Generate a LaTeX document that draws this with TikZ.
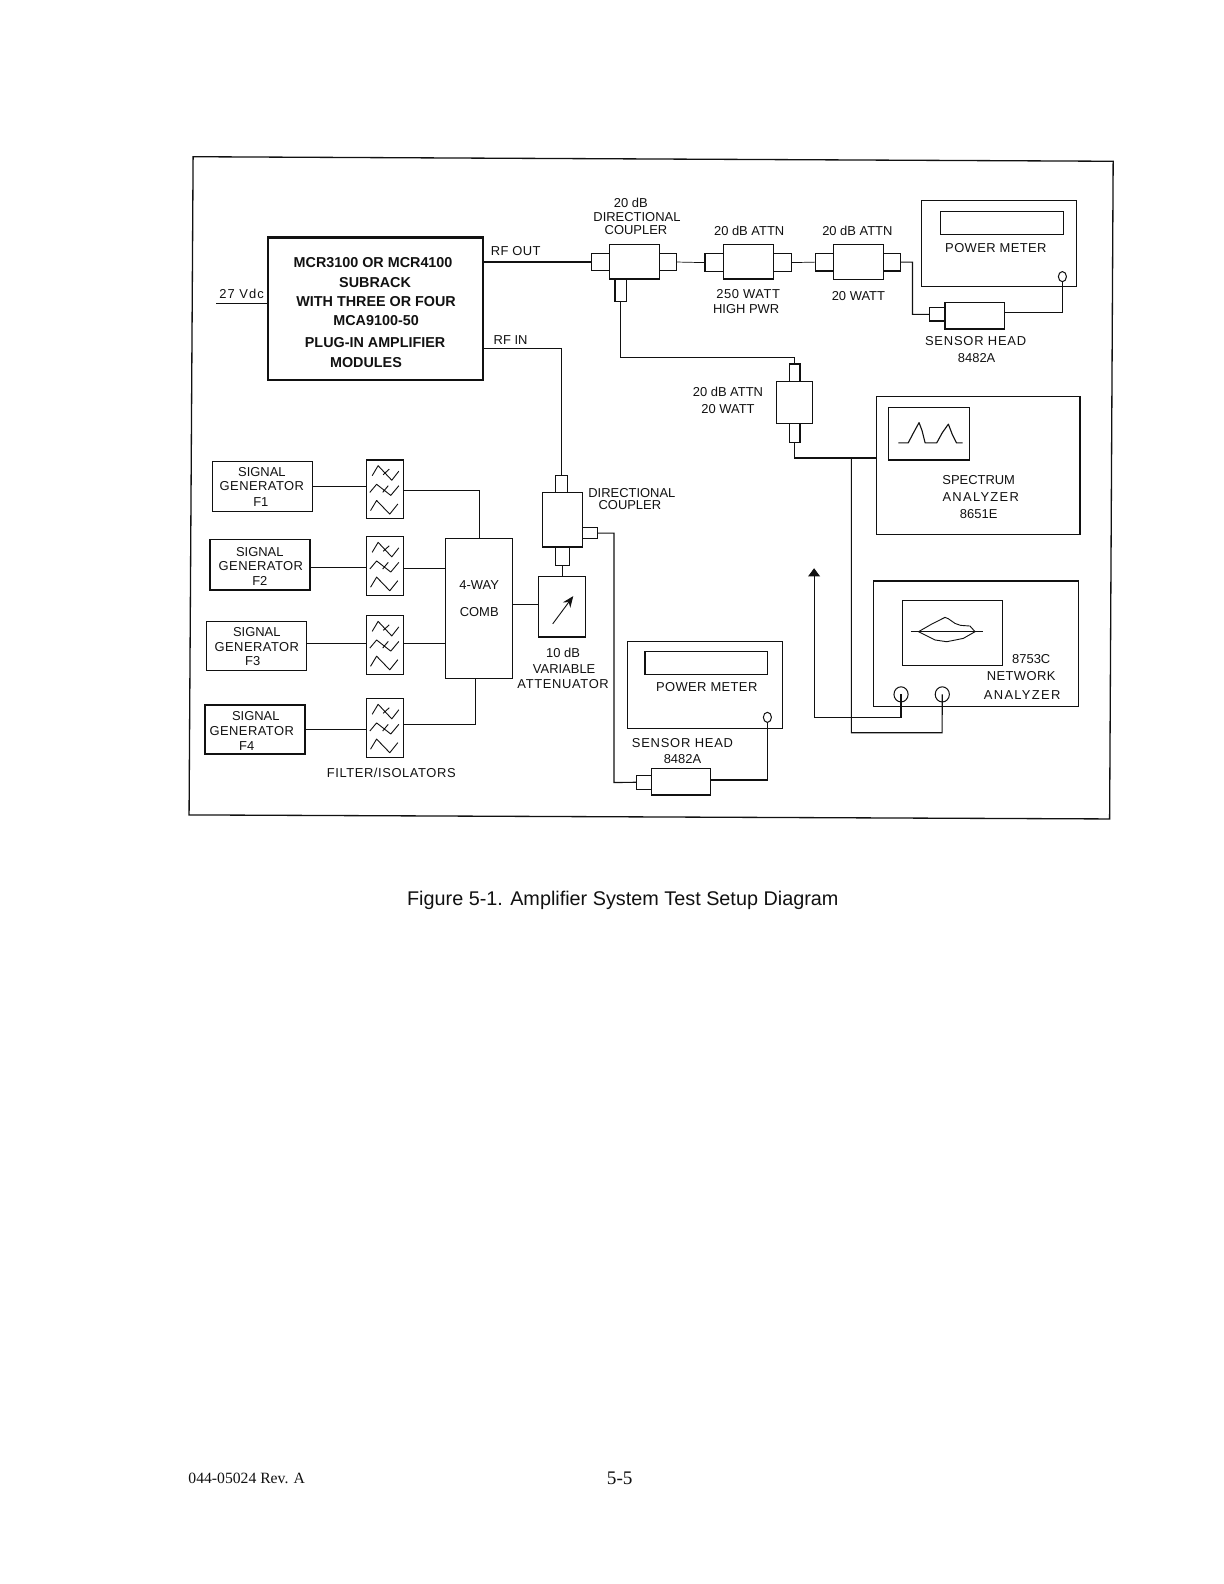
\documentclass[tikz,border=0pt]{standalone}
\usepackage{fontspec}
\setmainfont{Liberation Sans}
\newfontfamily\serifface{Liberation Serif}
\usetikzlibrary{arrows.meta,shapes.geometric}
\definecolor{inkc}{HTML}{111111}
\tikzset{
  thinbox/.style={draw=inkc,line width=1.1pt,inner sep=0pt,outer sep=0pt},
  heavybox/.style={draw=inkc,line width=2.2pt,inner sep=0pt,outer sep=0pt},
  wire/.style={draw=inkc,line width=1.1pt},
  hairwire/.style={draw=inkc,line width=.7pt},
  trace/.style={draw=inkc,line width=.9pt,line join=round},
  lbl/.style={inner sep=0pt,outer sep=0pt,text=inkc,font=\fontsize{12.8}{14}\selectfont},
  sp/.style={lbl,font=\fontsize{12.8}{14}\selectfont\addfontfeature{LetterSpace=#1}},
  boldlbl/.style={lbl,font=\fontsize{14.2}{16}\selectfont\bfseries},
  dot/.style={ellipse,draw=inkc,fill=white,line width=1pt,inner sep=0pt,outer sep=0pt},
}
% \bx[style]{name}{x1}{y1}{x2}{y2}
\newcommand\bx[6][thinbox]{%
  \pgfmathsetmacro\bxw{#5-#3}\pgfmathsetmacro\bxh{#6-#4}%
  \pgfmathsetmacro\bxcx{(#5+#3)/2}\pgfmathsetmacro\bxcy{(#6+#4)/2}%
  \node[#1,minimum width=\bxw pt,minimum height=\bxh pt] (#2) at (\bxcx,\bxcy) {};}
\newcommand\filt[3]{%
  \bx{#1}{#2}{#3}{#2+36.5}{#3+58}
  \begin{scope}[shift={(#2,#3)}]
    \draw[trace] (5.6,15.5)--(11.5,5.6)--(25,20)--(32,11) (16.5,14.5)--(22.5,9);
    \draw[trace] (3.3,32)--(10,24)--(24,35)--(32,25.4) (16,32)--(21.5,25.4);
    \draw[trace] (4,50)--(10,40)--(23,53.5)--(31,43.5);
  \end{scope}}
\begin{document}
\begin{tikzpicture}[x=1pt,y=-1pt]
\useasboundingbox (0,0) rectangle (1210.6,1566.7);
\fill[white] (0,0) rectangle (1210.6,1566.7);
% outer frame
\draw[draw=inkc,line width=1.3pt] (191,155)--(1101,159.5)--(1097.5,810)--(187,806)--cycle;

% main subrack
\bx[heavybox]{rack}{265}{235}{478}{376}
\node[boldlbl] (r1) at (369,260) {MCR3100 OR MCR4100};
\node[boldlbl] (r2) at (371,279) {SUBRACK};
\node[boldlbl] (r3) at (372,298) {WITH THREE OR FOUR};
\node[boldlbl] (r4) at (372,317) {MCA9100-50};
\node[boldlbl] (r5) at (371,339) {PLUG-IN AMPLIFIER};
\node[boldlbl] (r6) at (362,359) {MODULES};
\node[sp=8] (vdc) at (239,291) {27 Vdc};
\coordinate (vdcfree) at (214,300);
\draw[wire] (vdcfree) -- (vdcfree -| rack.west);
\node[sp=3] (rfout) at (510,248) {RF OUT};
\node[lbl] (rfin) at (505,336) {RF IN};

% output coupler
\bx{cmain}{602.7}{241.5}{652}{276}
\bx{cl}{585}{250.6}{602.7}{267.7}
\bx{cr}{652}{250.6}{669}{267.7}
\bx{cb}{608.3}{276}{620}{298.4}
\node[lbl] (c1) at (624,201) {20 dB};
\node[lbl] (c2) at (630,215) {DIRECTIONAL};
\node[lbl] (c3) at (629,228) {COUPLER};
\draw[wire] (cl.west) -- (cl.west -| rack.east);
% attenuators
\bx{aone}{715.5}{242}{765}{276}
\bx{aonel}{697.3}{251}{715.5}{268.5}
\bx{aoner}{765}{251}{782.5}{268.5}
\bx{atwo}{824.3}{241.7}{873.7}{276.3}
\bx{atwol}{806.5}{250.5}{824.3}{268}
\bx{atwor}{873.7}{250.5}{891}{268}
\draw[hairwire] (cr.east) -- (aonel.west);
\draw[hairwire] (aoner.east) -- (atwol.west);
\node[lbl] (a1t) at (741,228) {20 dB ATTN};
\node[lbl] (a2t) at (848,228) {20 dB ATTN};
\node[sp=4] (a1b) at (740,291) {250 WATT};
\node[lbl] (a1c) at (738,306) {HIGH PWR};
\node[lbl] (a2b) at (849,293) {20 WATT};
% top power meter
\bx{pm}{911.6}{198}{1065}{283.5}
\bx{pmd}{930}{209}{1052}{232}
\node[sp=3] (pmt) at (985,245) {POWER METER};
\node[dot,minimum width=8pt,minimum height=10pt] (pmc) at (1050.8,273.6) {};
\bx{sh}{934.7}{299}{993.4}{325.4}
\bx{shl}{919.2}{304.4}{934.7}{317.5}
\node[sp=6] (sht) at (965,337) {SENSOR HEAD};
\node[lbl] (shn) at (966,354) {8482A};
\draw[wire] (atwor.east) -| (902.5,311) -- (shl.west);
\draw[wire] (sh.east |- 0,309.5) -| (pmc.south);
% vertical attenuator
\bx{vm}{768.2}{377}{803.5}{418.7}
\bx{vt}{780.7}{360}{791.3}{377}
\bx{vb}{780.7}{418.7}{791.3}{437.5}
\node[lbl] (v1) at (720,388) {20 dB ATTN};
\node[lbl] (v2) at (720,405) {20 WATT};
\draw[wire] (cb.south) |- (786,353.5) -- (vt.north);
% spectrum analyzer
\bx{sa}{866.5}{392}{1068.2}{528.5}
\bx{sas}{878.6}{403}{959}{455}
\draw[trace,line width=1.1pt] (888.5,438)--(898.3,438)--(903,429)--(909,418)--(912,426)--(915,438)--(926.5,438)--(932,428)--(938,419.5)--(942,430)--(946,438)--(952,438);
\node[lbl] (sa1) at (968,475) {SPECTRUM};
\node[sp=10] (sa2) at (970,492) {ANALYZER};
\node[lbl] (sa3) at (968,508) {8651E};
\coordinate (sajoin) at (842,453);
\draw[wire] (vb.south) |- (sajoin) -- (sajoin -| sa.west);
% network analyzer
\bx{na}{863.8}{574.7}{1066.6}{699}
\bx{nas}{892.5}{594}{991.8}{657.8}
\draw[trace] (900.8,624.8)--(972,624.8);
\draw[trace] (908.4,624.8)--(922,617)--(934.7,610.6)--(938,612)--(944.6,616.6)--(950,618.5)--(959.4,619.2)--(964.4,624.8)--(952.8,631.4)--(945,633)--(936.3,634.7)--(925,633)--cycle;
\node[lbl] (na1) at (1020,652) {8753C};
\node[sp=3] (na2) at (1010,669) {NETWORK};
\node[sp=10] (na3) at (1011,687) {ANALYZER};
\node[dot,minimum width=14pt,minimum height=15pt] (nap) at (891.2,686.8) {};
\node[dot,minimum width=14pt,minimum height=15pt] (naq) at (932,686.8) {};
\coordinate (arrowend) at (805.2,562);
\draw[wire,-{Triangle[length=8pt,width=11.5pt]}] (nap.center) |- (805.2,709.6) -- (arrowend);
\draw[wire] (sajoin) |- (931.8,724.7) -- (naq.center);
% input coupler
\bx{dm}{537}{487}{576}{541}
\bx{dt}{549.7}{470}{561}{487}
\bx{db}{549}{541}{563}{559}
\bx{dr}{576}{521.5}{591}{533}
\node[lbl] (d1) at (625,488) {DIRECTIONAL};
\node[lbl] (d2) at (623,500) {COUPLER};
\draw[wire] (rack.east |- 0,345) -| (dt.north);
% variable attenuator
\bx{va}{533}{570}{579}{630}
\draw[-{Stealth[length=11pt,width=9pt]},trace] (546.7,617)--(567,589.6);
\node[lbl] (va1) at (557,646) {10 dB};
\node[lbl] (va2) at (558,662) {VARIABLE};
\node[sp=5] (va3) at (557,677) {ATTENUATOR};
\draw[hairwire] (db.south) -- (db.south |- va.north);
% lower power meter
\bx{pl}{620.8}{634.7}{774.2}{720.4}
\bx{pld}{638}{644.6}{759.3}{666.7}
\node[sp=3] (plt) at (699,680) {POWER METER};
\node[dot,minimum width=8pt,minimum height=10pt] (plc) at (759,709.5) {};
\bx{sl}{644.6}{760}{703}{786.3}
\bx{sll}{629.7}{766.6}{644.6}{780.8}
\node[sp=6] (slt) at (675,735) {SENSOR HEAD};
\node[lbl] (sln) at (675,751) {8482A};
\draw[wire] (dr.east) -| (607.3,774) -- (sll.west);
\draw[wire] (sl.east |- 0,771.5) -| (plc.south);
% combiner
\bx{comb}{440.8}{532.5}{507}{671}
\node[lbl] (cb1) at (474,579) {4-WAY};
\node[lbl] (cb2) at (474,605) {COMB};
\draw[wire] (comb.east |- 0,597.5) -- (va.west |- 0,597.5);
% generators
\bx{sg1}{210.4}{456.7}{309.3}{506}
\node[lbl] (g11) at (259,467) {SIGNAL};
\node[sp=3.5] (g12) at (259,481) {GENERATOR};
\node[lbl] (g13) at (258,497) {F1};
\bx{sg2}{207.7}{534}{306.6}{583.6}
\node[lbl] (g21) at (257,546) {SIGNAL};
\node[sp=3.5] (g22) at (258,560) {GENERATOR};
\node[lbl] (g23) at (257,575) {F2};
\bx{sg3}{204.4}{614.9}{303.3}{663.4}
\node[lbl] (g31) at (254,625) {SIGNAL};
\node[sp=3.5] (g32) at (254,640) {GENERATOR};
\node[lbl] (g33) at (250,654) {F3};
\bx{sg4}{202.8}{697.3}{301.7}{745.8}
\node[lbl] (g41) at (253,708) {SIGNAL};
\node[sp=3.5] (g42) at (249,723) {GENERATOR};
\node[lbl] (g43) at (244,738) {F4};
\filt{f1}{362.5}{455}
\filt{f2}{362.5}{530.8}
\filt{f3}{362.5}{609}
\filt{f4}{362.5}{691}
\node[sp=4.5] (fl) at (387,764) {FILTER/ISOLATORS};
\draw[wire] (sg1.east |- 0,481.3) -- (f1.west |- 0,481.3);
\draw[wire] (sg2.east |- 0,561.5) -- (f2.west |- 0,561.5);
\draw[wire] (sg3.east |- 0,636.3) -- (f3.west |- 0,636.3);
\draw[wire] (sg4.east |- 0,721.4) -- (f4.west |- 0,721.4);
\draw[wire] (f1.east |- 0,484.7) -| (comb.north);
\draw[wire] (f2.east |- 0,562) -- (comb.west |- 0,562);
\draw[wire] (f3.east |- 0,636.3) -- (comb.west |- 0,636.3);
\draw[wire] (f4.east |- 0,717) -| (470.5,717) -- (470.5,717 |- comb.south);
% caption and footer
\node[inner sep=0pt,text=inkc,font=\fontsize{19.6}{21}\selectfont] (cap) at (616,891) {Figure 5-1. Amplifier System Test Setup Diagram};
\node[inner sep=0pt,text=inkc,font=\serifface\fontsize{15.5}{17}\selectfont] (fl1) at (244,1462) {044-05024 Rev. A};
\node[inner sep=0pt,text=inkc,font=\serifface\fontsize{19}{20}\selectfont] (fl2) at (613,1462) {5-5};
\end{tikzpicture}
\end{document}
